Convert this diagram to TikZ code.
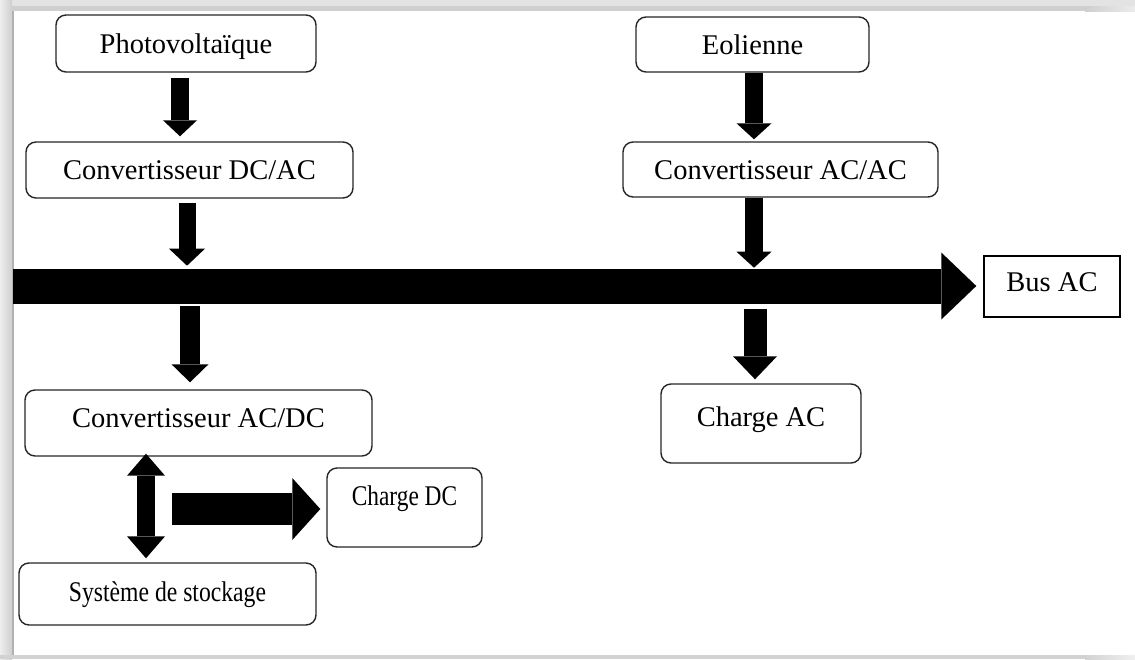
\documentclass[tikz,border=0pt]{standalone}
\usepackage{fontspec}
\setmainfont{Liberation Serif}
\usetikzlibrary{arrows.meta,calc}
\begin{document}
\begin{tikzpicture}[x=1pt,y=-1pt,
  box/.style={draw=black!85, line width=1.4pt, rounded corners=10pt, fill=white,
    inner sep=0pt, font=\fontsize{28.5}{34}\selectfont, text height=19pt, text depth=0pt},
  sqbox/.style={box, rounded corners=0pt, draw=black},
  blk/.style n args={3}{line width=#1pt,
    -{Triangle[width=#2pt,length=#3pt,line width=0pt]}},
  dblk/.style n args={3}{line width=#1pt,
    {Triangle[width=#2pt,length=#3pt,line width=0pt]}-{Triangle[width=#2pt,length=#3pt,line width=0pt]}},
]
\useasboundingbox (0,0) rectangle (1135,659);

% page frame shadow
\fill[gray!22] (0,0) rectangle (1135,6);
\fill[gray!38] (0,6) rectangle (1085,11);
\shade[left color=gray!38, right color=gray!15] (1085,6) rectangle (1135,11);
\shade[left color=gray!14, right color=gray!38] (0,0) rectangle (12,659);
\fill[gray!60] (12,11) rectangle (13.5,655);
\fill[gray!35] (0,655) rectangle (1085,659);
\shade[left color=gray!35, right color=gray!12] (1085,655) rectangle (1135,659);

% boxes
\node[box, minimum width=260pt, minimum height=57pt] (pv) at (186,43.5) {Photovoltaïque};
\node[box, minimum width=327pt, minimum height=56pt] (dcac) at (189.5,170) {Convertisseur DC/AC};
\node[box, minimum width=233pt, minimum height=55pt] (eol) at (752.5,44.5) {Eolienne};
\node[box, minimum width=315pt, minimum height=55pt] (acac) at (780.5,169.5) {Convertisseur AC/AC};
\node[sqbox, minimum width=136pt, minimum height=61pt, text depth=9pt] (bus) at (1052,286.5) {Bus AC};
\node[box, minimum width=347pt, minimum height=66pt, text depth=10pt] (acdc) at (198.5,423) {Convertisseur AC/DC};
\node[box, minimum width=200pt, minimum height=79pt, text depth=13pt] (chac) at (761,423.5) {Charge AC};
\node[box, minimum width=155pt, minimum height=79pt, text depth=23pt] (chdc) at (404.5,507.5) {\scalebox{0.82}[1]{Charge DC}};
\node[box, minimum width=297pt, minimum height=62pt, text depth=5pt] (stock) at (167.5,594) {\scalebox{0.83}[1]{Système de stockage}};

% free ends of the bus bar and of the DC load feed
\coordinate (busstart) at (13,286);
\coordinate (dcfeed) at (172,509);

% AC bus
\draw[blk={35}{67}{35}] (busstart) -- ($(bus.west)+(-7,-0.5)$);

% block arrows
\draw[blk={18}{34}{16}] ($(pv.south)+(-6,5)$) -- ($(dcac.north)+(-9.5,-5)$);
\draw[blk={17}{36}{17}] ($(dcac.south)+(-2.5,4)$) -- ($(dcac.south)+(-2.5,67)$);
\draw[blk={20}{37}{18}] ($(acdc.north)+(-8.5,-83)$) -- ($(acdc.north)+(-8.5,-7)$);
\draw[blk={18}{35}{16}] ($(eol.south)+(1.5,0)$) -- ($(acac.north)+(-26.5,-2)$);
\draw[blk={18}{35}{16}] ($(acac.south)+(-26.5,0)$) -- ($(acac.south)+(-26.5,70)$);
\draw[blk={23}{44}{23}] ($(chac.north)+(-6,-74)$) -- ($(chac.north)+(-6,-4)$);
\draw[dblk={18}{38}{22}] ($(acdc.south)+(-52.5,-3)$) -- ($(stock.north)+(-21.5,-4)$);
\draw[blk={32}{62}{28}] (dcfeed) -- ($(chdc.west)+(-6,1.5)$);
\end{tikzpicture}
\end{document}
